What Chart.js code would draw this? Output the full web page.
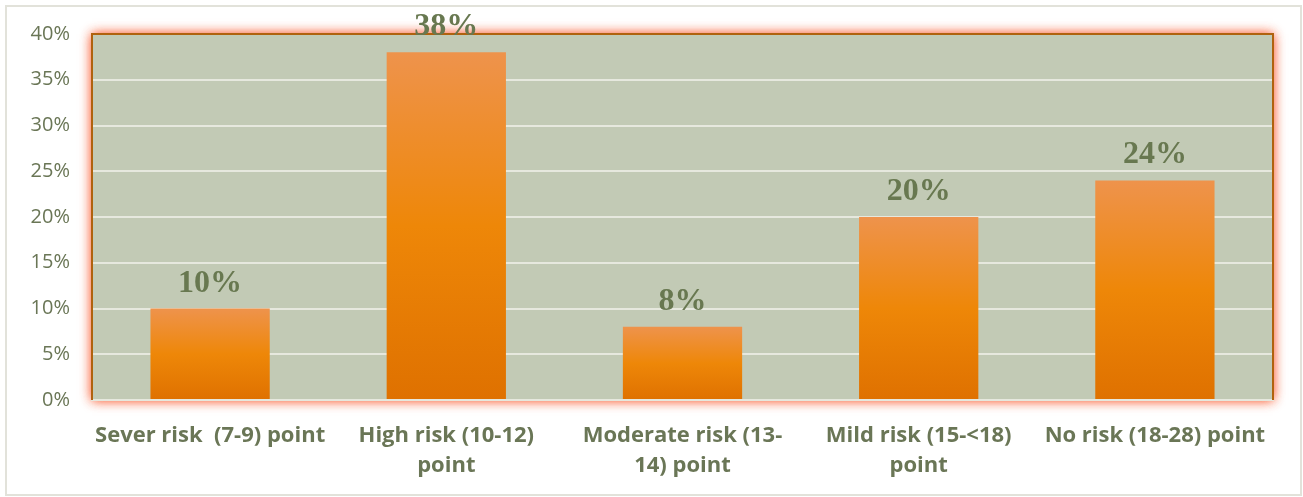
<!DOCTYPE html>
<html>
<head>
<meta charset="utf-8">
<script src="https://cdn.jsdelivr.net/npm/chart.js@4/dist/chart.umd.min.js"></script>
<style>
  html, body { margin: 0; padding: 0; background: #ffffff; }
  #wrap { width: 1303px; height: 497px; }
</style>
</head>
<body>
<div id="wrap"><canvas id="myChart" width="1303" height="497"></canvas></div>
<script>
const categories = [
    "Sever risk  (7-9) point",
    ["High risk (10-12)", "point"],
    ["Moderate risk (13-", "14) point"],
    ["Mild risk (15-<18)", "point"],
    "No risk (18-28) point",
]
const percents = [10, 38, 8, 20, 24]
const yTicks = [0, 5, 10, 15, 20, 25, 30, 35, 40]

const textColor = "#6a7656"
const labelColor = "#687850"

// each bar fades from a light orange top to a darker base
function barGradient(context) {
    const chart = context.chart
    const area = chart.chartArea
    if (!area || context.type !== "data") return "#ee8505"
    const top = chart.scales.y.getPixelForValue(percents[context.dataIndex])
    const g = chart.ctx.createLinearGradient(0, top, 0, area.bottom)
    g.addColorStop(0, "#ee934c")
    g.addColorStop(0.5, "#ee8708")
    g.addColorStop(1, "#df7100")
    return g
}

// frame around the whole figure and the shaded plot area with its glow
const plotFrame = {
    id: "plotFrame",
    beforeDraw(chart) {
        const ctx = chart.ctx
        const a = chart.chartArea
        ctx.save()
        ctx.strokeStyle = "#e2e2da"
        ctx.lineWidth = 2
        ctx.strokeRect(6, 6, chart.width - 8, chart.height - 8)

        ctx.shadowColor = "rgba(250, 105, 65, 0.85)"
        ctx.shadowBlur = 11
        ctx.fillStyle = "#c2cab5"
        ctx.fillRect(a.left, a.top, a.right - a.left, a.bottom - a.top)
        ctx.fillRect(a.left, a.top, a.right - a.left, a.bottom - a.top)
        ctx.restore()
    },
    afterDatasetsDraw(chart) {
        const ctx = chart.ctx
        const a = chart.chartArea
        ctx.save()
        ctx.strokeStyle = "#b0620e"
        ctx.lineWidth = 2
        ctx.beginPath()
        ctx.moveTo(a.left, a.bottom)
        ctx.lineTo(a.left, a.top)
        ctx.lineTo(a.right, a.top)
        ctx.lineTo(a.right, a.bottom)
        ctx.stroke()
        ctx.restore()
    },
}

// value labels above each bar
const valueLabels = {
    id: "valueLabels",
    afterDraw(chart) {
        const ctx = chart.ctx
        const meta = chart.getDatasetMeta(0)
        ctx.save()
        ctx.font = "bold 32px 'Liberation Serif', 'Times New Roman', serif"
        ctx.fillStyle = labelColor
        ctx.textAlign = "center"
        ctx.textBaseline = "alphabetic"
        meta.data.forEach((bar, i) => {
            ctx.fillText(percents[i] + "%", bar.x, bar.y - 17)
        })
        ctx.restore()
    },
}

var ctx = document.getElementById('myChart').getContext('2d');
var myChart = new Chart(ctx, {
    type: 'bar',
    data: {
        labels: categories,
        datasets: [{
            data: percents,
            backgroundColor: barGradient,
            borderWidth: 0,
            barPercentage: 0.505,
            categoryPercentage: 1.0,
        }]
    },
    options: {
        responsive: false,
        animation: false,
        layout: { padding: { left: 10, top: 34, right: 30, bottom: 0 } },
        plugins: {
            legend: { display: false },
            tooltip: { enabled: false },
        },
        scales: {
            x: {
                grid: { display: false, drawTicks: false },
                border: { display: true, color: "#e6e8de", width: 2 },
                ticks: {
                    color: textColor,
                    font: { family: "'Open Sans', 'Noto Sans', sans-serif", size: 22, weight: "bold", lineHeight: 1.36 },
                    padding: 21,
                    maxRotation: 0,
                    autoSkip: false,
                },
                afterFit(scale) { scale.height = 97 },
            },
            y: {
                min: 0,
                max: 40,
                afterBuildTicks(scale) {
                    scale.ticks = yTicks.map(v => ({ value: v }))
                },
                grid: { color: "#e6e8de", lineWidth: 2, drawTicks: false },
                border: { display: false },
                ticks: {
                    color: textColor,
                    font: { family: "'Open Sans', 'Noto Sans', sans-serif", size: 20 },
                    padding: 22,
                    callback: v => v + "%",
                },
                afterFit(scale) { scale.width = 82 },
            }
        }
    },
    plugins: [plotFrame, valueLabels]
});
</script>
</body>
</html>
